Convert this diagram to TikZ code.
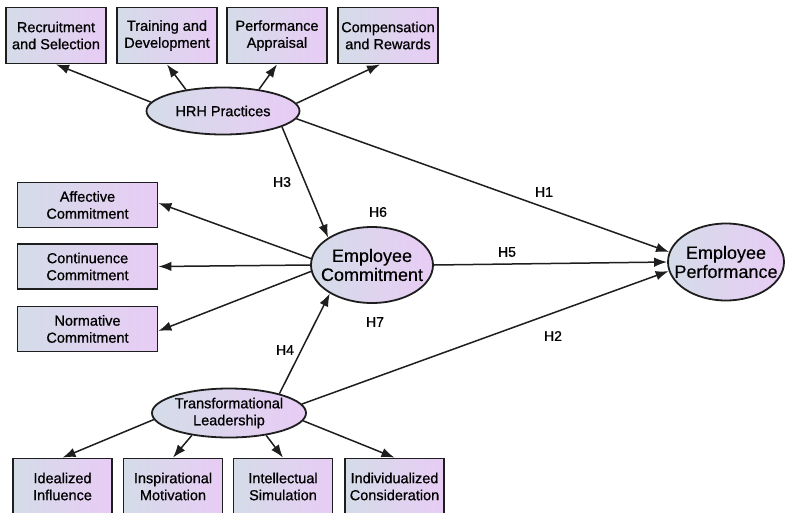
\documentclass[tikz,border=0pt]{standalone}
\usepackage{fontspec}
\setmainfont{Liberation Sans}
\newfontfamily\hv[FakeBold=0.8]{Liberation Sans}
\newfontfamily\hvl[FakeBold=0.3]{Liberation Sans}
\usetikzlibrary{arrows.meta,shapes.geometric}
\definecolor{gl}{RGB}{212,220,232}
\definecolor{gr}{RGB}{232,204,245}
\definecolor{ln}{RGB}{30,30,30}
\begin{document}
\begin{tikzpicture}[x=1pt,y=-1pt,
  box/.style={draw=ln,line width=1.8pt,left color=gl,right color=gr,align=center,inner sep=0pt,
    font=\hv\fontsize{14.5}{17}\selectfont},
  topbox/.style={box,minimum width=100pt,minimum height=56pt},
  sidebox/.style={box,minimum width=140pt,minimum height=45pt},
  botbox/.style={box,minimum width=99pt,minimum height=56pt},
  lat/.style={ellipse,draw=ln,line width=1.8pt,left color=gl,right color=gr,inner sep=0pt},
  smtext/.style={align=center,inner sep=0pt,font=\hv\fontsize{14.5}{17}\selectfont},
  bigtext/.style={align=center,inner sep=0pt,font=\hvl\fontsize{18}{19}\selectfont},
  arr/.style={draw=ln,line width=1.5pt,-{Latex[length=13pt,width=9.5pt]}},
  hl/.style={font=\hv\fontsize{14}{16}\selectfont,inner sep=0pt}]
\useasboundingbox (0,0) rectangle (785,512);
\fill[white] (0,0) rectangle (785,512);
% top indicators
\node[topbox] (rec) at (56,35.5) {Recruitment\\and Selection};
\node[topbox] (trn) at (167,35.5) {Training and\\Development};
\node[topbox] (per) at (277,35.5) {Performance\\Appraisal};
\node[topbox] (cmp) at (388,35.5) {Compensation\\and Rewards};
% left indicators
\node[sidebox] (aff) at (87.5,205) {Affective\\Commitment};
\node[sidebox] (con) at (87.5,266.5) {Continuence\\Commitment};
\node[sidebox] (nor) at (87.5,329) {Normative\\Commitment};
% bottom indicators
\node[botbox] (ide) at (62.5,486.5) {Idealized\\Influence};
\node[botbox] (ins) at (173,486.5) {Inspirational\\Motivation};
\node[botbox] (int) at (283,486.5) {Intellectual\\Simulation};
\node[botbox] (ind) at (394.5,486.5) {Individualized\\Consideration};
% latent variables
\node[lat,minimum width=153pt,minimum height=47pt] (hrh) at (223,111) {};
\node[smtext] (hrht) at (hrh.center) {HRH Practices};
\node[lat,minimum width=122pt,minimum height=76pt] (ec) at (372,265) {};
\node[bigtext] (ect) at (ec.center) {Employee\\Commitment};
\node[lat,minimum width=116pt,minimum height=77pt] (ep) at (726,262) {};
\node[bigtext] (ept) at (ep.center) {Employee\\Performance};
\node[lat,minimum width=154pt,minimum height=49pt] (tl) at (229,413) {};
\node[smtext] (tlt) at (tl.center) {Transformational\\Leadership};
% HRH arrows
\draw[arr] (hrh.173) -- (rec.south);
\draw[arr] (hrh.150) -- (trn.south);
\draw[arr] (hrh.31) -- (per.south);
\draw[arr] (hrh.6) -- ([xshift=-8pt]cmp.south);
\draw[arr] (hrh.-6) -- (ep.170);
\draw[arr] (hrh.-15) -- (ec.148);
% EC arrows
\draw[arr] (ec.174) -- ([yshift=2pt]aff.east);
\draw[arr] (ec.180) -- (con.east);
\draw[arr] (ec.186) -- ([yshift=-2pt]nor.east);
\draw[arr] (ec.east) -- (ep.west);
% TL arrows
\draw[arr] (tl.21) -- (ec.214);
\draw[arr] (tl.7) -- (ep.189);
\draw[arr] (tl.185) -- (ide.north);
\draw[arr] (tl.211) -- (ins.north);
\draw[arr] (tl.-31) -- (int.north);
\draw[arr] (tl.-6) -- (ind.north);
% labels
\node[hl] (h1) at (544,192) {H1};
\node[hl] (h2) at (553,336) {H2};
\node[hl] (h3) at (282,182) {H3};
\node[hl] (h4) at (285,350) {H4};
\node[hl] (h5) at (507,252) {H5};
\node[hl] (h6) at (378,212) {H6};
\node[hl] (h7) at (375,322) {H7};
\end{tikzpicture}
\end{document}
